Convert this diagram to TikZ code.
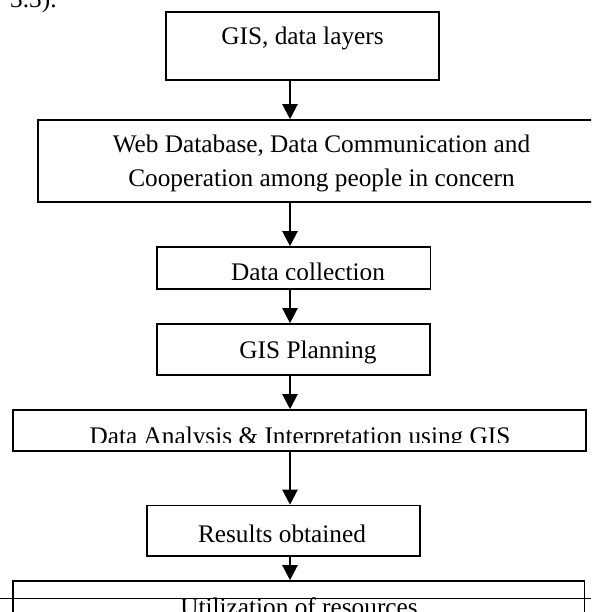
\documentclass[tikz,border=0pt]{standalone}
\usepackage{fontspec}
\setmainfont{Liberation Serif}
\usetikzlibrary{arrows.meta}
\tikzset{
  box/.style={draw, line width=1.6pt, rectangle, inner sep=0pt},
  lbl/.style={anchor=base, inner sep=0pt, font=\fontsize{25.3}{30}\selectfont},
  arr/.style={line width=2.2pt, -{Triangle[width=15pt,length=15pt]}},
  rule/.style={line width=0.8pt}
}
\begin{document}
\begin{tikzpicture}[x=1pt,y=-1pt]
\useasboundingbox (0,0) rectangle (591,612);
\clip (0,0) rectangle (591,612);
\coordinate (ax) at (290,0);
% boxes
\node[box, minimum width=273pt, minimum height=68pt] (b1) at (302.5,46) {};
\node[box, minimum width=567pt, minimum height=82pt] (b2) at (321.5,161) {};
\node[box, minimum width=273.5pt, minimum height=42pt] (b3) at (293.75,268) {};
\node[box, minimum width=273pt, minimum height=51pt] (b4) at (293.5,349.5) {};
\node[box, minimum width=573pt, minimum height=41pt] (b5) at (299.5,430.5) {};
\node[box, minimum width=273pt, minimum height=50.5pt] (b6) at (283.5,530.75) {};
\node[box, minimum width=571.5pt, minimum height=59pt] (b7) at (298.75,610.5) {};
% texts
\node[lbl, anchor=base west] (t0) at (10,7.5) {3.3).};
\node[lbl] (t1) at (302.5,45) {GIS, data layers};
\node[lbl] (t2a) at (321.5,153) {Web Database, Data Communication and};
\node[lbl] (t2b) at (321.5,187) {Cooperation among people in concern};
\begin{scope}
  \clip (157,247) rectangle (430,279);
  \node[lbl] (t3) at (308,280) {Data collection};
\end{scope}
\node[lbl] (t4) at (308,358.3) {GIS Planning};
\begin{scope}
  \clip (13,410) rectangle (586,442);
  \node[lbl] (t5) at (300,444.7) {Data Analysis \& Interpretation using GIS};
\end{scope}
\node[lbl] (t6) at (282,542) {Results obtained};
\node[lbl] (t7) at (299,615) {Utilization of resources};
% rule line across bottom
\coordinate (rl) at (0,598);
\coordinate (rr) at (591,598);
\draw[rule] (rl) -- (rr);
% arrows
\draw[arr] (b1.south -| ax) -- (b2.north -| ax);
\draw[arr] (b2.south -| ax) -- (b3.north -| ax);
\draw[arr] (b3.south -| ax) -- (b4.north -| ax);
\draw[arr] (b4.south -| ax) -- (b5.north -| ax);
\draw[arr] (b5.south -| ax) -- (b6.north -| ax);
\draw[arr] (b6.south -| ax) -- (b7.north -| ax);
\end{tikzpicture}
\end{document}
